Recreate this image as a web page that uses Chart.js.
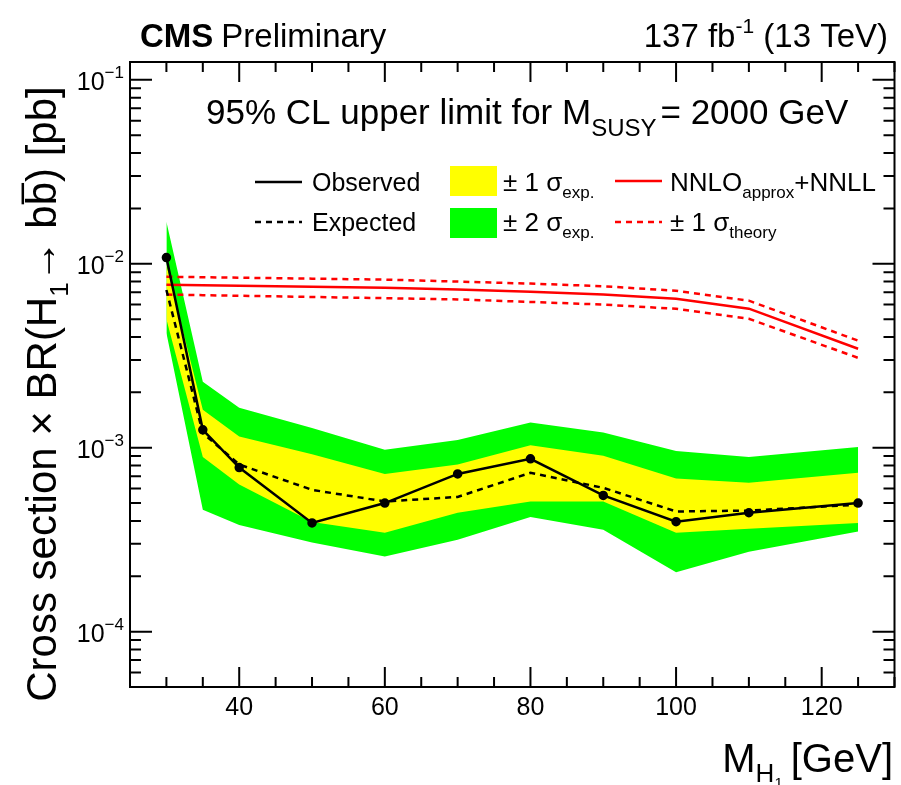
<!DOCTYPE html>
<html>
<head>
<meta charset="utf-8">
<script src="https://cdn.jsdelivr.net/npm/chart.js@4.4.1/dist/chart.umd.min.js"></script>
<style>
  body { margin: 0; background: #fff; }
  #wrap { width: 901px; height: 785px; }
</style>
</head>
<body>
<div id="wrap"><canvas id="myChart" width="901" height="785"></canvas></div>
<script>
// mass points and limits (pb)
const massPoints = [30, 35, 40, 50, 60, 70, 80, 90, 100, 110, 125];
const observed   = [1.08e-2, 1.25e-3, 7.8e-4, 3.9e-4, 5.0e-4, 7.2e-4, 8.7e-4, 5.5e-4, 3.96e-4, 4.43e-4, 5.0e-4];
const expected   = [7.2e-3, 1.2e-3, 8.1e-4, 5.9e-4, 5.1e-4, 5.4e-4, 7.3e-4, 6.05e-4, 4.5e-4, 4.55e-4, 4.9e-4];
const exp1Up     = [9.8e-3, 1.61e-3, 1.15e-3, 9.2e-4, 7.2e-4, 8.1e-4, 1.03e-3, 9.05e-4, 6.8e-4, 6.45e-4, 7.3e-4];
const exp1Down   = [5.0e-3, 8.9e-4, 6.3e-4, 3.95e-4, 3.45e-4, 4.43e-4, 5.1e-4, 5.1e-4, 3.45e-4, 3.63e-4, 3.9e-4];
const exp2Up     = [1.69e-2, 2.28e-3, 1.65e-3, 1.28e-3, 9.75e-4, 1.1e-3, 1.37e-3, 1.21e-3, 9.6e-4, 8.9e-4, 1.01e-3];
const exp2Down   = [4.2e-3, 4.6e-4, 3.8e-4, 3.05e-4, 2.56e-4, 3.16e-4, 4.2e-4, 3.58e-4, 2.1e-4, 2.72e-4, 3.5e-4];
const theory     = [7.7e-3, 7.65e-3, 7.6e-3, 7.5e-3, 7.4e-3, 7.25e-3, 7.05e-3, 6.8e-3, 6.45e-3, 5.7e-3, 3.45e-3];
const theoryUp   = [8.5e-3, 8.45e-3, 8.4e-3, 8.3e-3, 8.2e-3, 8.0e-3, 7.8e-3, 7.55e-3, 7.13e-3, 6.3e-3, 3.82e-3];
const theoryDown = [6.8e-3, 6.75e-3, 6.7e-3, 6.6e-3, 6.5e-3, 6.4e-3, 6.2e-3, 6.0e-3, 5.69e-3, 5.02e-3, 3.08e-3];

// axis ticks
const xMajor = [40, 60, 80, 100, 120];
const xLabels = ['40', '60', '80', '100', '120'];
const yMajor = [1e-4, 1e-3, 1e-2, 1e-1];
const yLabels = ['\u22124', '\u22123', '\u22122', '\u22121'];

const FONT = '"Liberation Sans", Arial, sans-serif';
const pts = (arr) => massPoints.map((m, i) => ({ x: m, y: arr[i] }));

// draw a run of text pieces (sub/superscripts), returns width
function rich(ctx, x, y, parts, align) {
    let w = 0;
    parts.forEach(p => {
        ctx.font = (p.bold ? 'bold ' : '') + p.size + 'px ' + FONT;
        p.w = ctx.measureText(p.t).width + (p.gap || 0);
        w += p.w;
    });
    let cx = x;
    if (align === 'right') cx = x - w;
    if (align === 'center') cx = x - w / 2;
    parts.forEach(p => {
        ctx.font = (p.bold ? 'bold ' : '') + p.size + 'px ' + FONT;
        ctx.fillText(p.t, cx, y + (p.dy || 0));
        if (p.over) {
            const ow = ctx.measureText(p.t).width;
            ctx.fillRect(cx + 1, y + (p.dy || 0) - p.size * 0.82, ow - 2, 2.5);
        }
        cx += p.w;
    });
    return w;
}

const rootPlugin = {
    id: 'rootStyle',
    afterDraw(chart) {
        const ctx = chart.ctx;
        const a = chart.chartArea;
        const xs = chart.scales.x, ys = chart.scales.y;
        ctx.save();
        ctx.fillStyle = '#000';
        ctx.strokeStyle = '#000';
        ctx.textBaseline = 'alphabetic';

        // frame
        ctx.lineWidth = 2;
        ctx.strokeRect(a.left, a.top, a.right - a.left, a.bottom - a.top);

        // x ticks (bottom and top)
        for (let v = 25; v <= 130; v += 5) {
            const px = xs.getPixelForValue(v);
            const len = xMajor.includes(v) ? 20 : 10;
            ctx.beginPath();
            ctx.moveTo(px, a.bottom); ctx.lineTo(px, a.bottom - len);
            ctx.moveTo(px, a.top); ctx.lineTo(px, a.top + len);
            ctx.stroke();
        }
        // y ticks (left and right)
        for (let e = -5; e <= -1; e++) {
            for (let m = 1; m <= 9; m++) {
                const v = m * Math.pow(10, e);
                if (v < ys.min || v > ys.max) continue;
                const py = ys.getPixelForValue(v);
                const len = m === 1 ? 22 : 11;
                ctx.beginPath();
                ctx.moveTo(a.left, py); ctx.lineTo(a.left + len, py);
                ctx.moveTo(a.right, py); ctx.lineTo(a.right - len, py);
                ctx.stroke();
            }
        }

        // x tick labels
        ctx.textAlign = 'left';
        xMajor.forEach((v, i) => {
            rich(ctx, xs.getPixelForValue(v), 715, [{ t: xLabels[i], size: 25 }], 'center');
        });
        // y tick labels
        yMajor.forEach((v, i) => {
            const py = ys.getPixelForValue(v);
            rich(ctx, 124, py + 10, [{ t: '10', size: 25 }, { t: yLabels[i], size: 17, dy: -12 }], 'right');
        });

        // header
        rich(ctx, 140, 47, [{ t: 'CMS', size: 33, bold: true, gap: 8 }, { t: 'Preliminary', size: 33 }], 'left');
        rich(ctx, 888, 47, [{ t: '137 fb', size: 33 }, { t: '-1', size: 21, dy: -14 }, { t: ' (13 TeV)', size: 33 }], 'right');

        // inner title
        rich(ctx, 206, 124, [
            { t: '95% CL upper limit for M', size: 35 },
            { t: 'SUSY', size: 24, dy: 12, gap: 4 },
            { t: '= 2000 GeV', size: 35 }
        ], 'left');

        // legend
        ctx.lineWidth = 2.5;
        ctx.beginPath(); ctx.moveTo(255, 182); ctx.lineTo(302, 182); ctx.stroke();
        ctx.setLineDash([6, 5]);
        ctx.beginPath(); ctx.moveTo(255, 222); ctx.lineTo(302, 222); ctx.stroke();
        ctx.setLineDash([]);
        ctx.fillStyle = '#ffff00'; ctx.fillRect(450, 166, 47, 30);
        ctx.fillStyle = '#00ff00'; ctx.fillRect(450, 208, 47, 30);
        ctx.strokeStyle = '#ff0000';
        ctx.beginPath(); ctx.moveTo(615, 181); ctx.lineTo(662, 181); ctx.stroke();
        ctx.setLineDash([6, 5]);
        ctx.beginPath(); ctx.moveTo(615, 222); ctx.lineTo(662, 222); ctx.stroke();
        ctx.setLineDash([]);
        ctx.fillStyle = '#000';
        rich(ctx, 312, 191, [{ t: 'Observed', size: 25 }], 'left');
        rich(ctx, 312, 231, [{ t: 'Expected', size: 25 }], 'left');
        rich(ctx, 503, 191, [{ t: '\u00b1 1 \u03c3', size: 26 }, { t: 'exp.', size: 17, dy: 7 }], 'left');
        rich(ctx, 503, 231, [{ t: '\u00b1 2 \u03c3', size: 26 }, { t: 'exp.', size: 17, dy: 7 }], 'left');
        rich(ctx, 670, 191, [{ t: 'NNLO', size: 26 }, { t: 'approx', size: 17, dy: 7 }, { t: '+NNLL', size: 26 }], 'left');
        rich(ctx, 670, 231, [{ t: '\u00b1 1 \u03c3', size: 26 }, { t: 'theory', size: 17, dy: 7 }], 'left');

        // axis titles
        rich(ctx, 893, 772, [
            { t: 'M', size: 40 },
            { t: 'H', size: 26, dy: 10 },
            { t: '1', size: 15, dy: 16, gap: 8 },
            { t: '[GeV]', size: 40 }
        ], 'right');

        ctx.translate(56, 394);
        ctx.rotate(-Math.PI / 2);
        rich(ctx, 0, 0, [
            { t: 'Cross section \u00d7 BR(H', size: 42 },
            { t: '1', size: 26, dy: 12 },
            { t: '\u2192 b', size: 42 },
            { t: 'b', size: 42, over: true },
            { t: ') [pb]', size: 42 }
        ], 'center');
        ctx.restore();
    }
};

const ctx = document.getElementById('myChart').getContext('2d');

const myChart = new Chart(ctx, {
    type: 'line',
    data: {
        datasets: [
            { data: pts(exp2Up), fill: '+1', backgroundColor: '#00ff00', borderWidth: 0, pointRadius: 0, order: 10 },
            { data: pts(exp2Down), fill: false, borderWidth: 0, pointRadius: 0, order: 10 },
            { data: pts(exp1Up), fill: '+1', backgroundColor: '#ffff00', borderWidth: 0, pointRadius: 0, order: 9 },
            { data: pts(exp1Down), fill: false, borderWidth: 0, pointRadius: 0, order: 9 },
            { data: pts(theoryUp), borderColor: '#ff0000', borderWidth: 2.5, borderDash: [6, 5], pointRadius: 0, fill: false, order: 4 },
            { data: pts(theoryDown), borderColor: '#ff0000', borderWidth: 2.5, borderDash: [6, 5], pointRadius: 0, fill: false, order: 4 },
            { data: pts(theory), borderColor: '#ff0000', borderWidth: 2.5, pointRadius: 0, fill: false, order: 3 },
            { data: pts(expected), borderColor: '#000', borderWidth: 2.5, borderDash: [6, 5], pointRadius: 0, fill: false, order: 2 },
            { data: pts(observed), borderColor: '#000', backgroundColor: '#000', borderWidth: 2.5, pointRadius: 3.5, fill: false, order: 1 }
        ]
    },
    options: {
        responsive: false,
        animation: false,
        layout: { padding: { left: 130, top: 62, right: 4, bottom: 98 } },
        elements: { line: { tension: 0 } },
        plugins: { legend: { display: false }, tooltip: { enabled: false } },
        scales: {
            x: { type: 'linear', min: 25, max: 130, display: false },
            y: { type: 'logarithmic', min: 5e-5, max: 0.125, display: false }
        }
    },
    plugins: [rootPlugin]
});
</script>
</body>
</html>
